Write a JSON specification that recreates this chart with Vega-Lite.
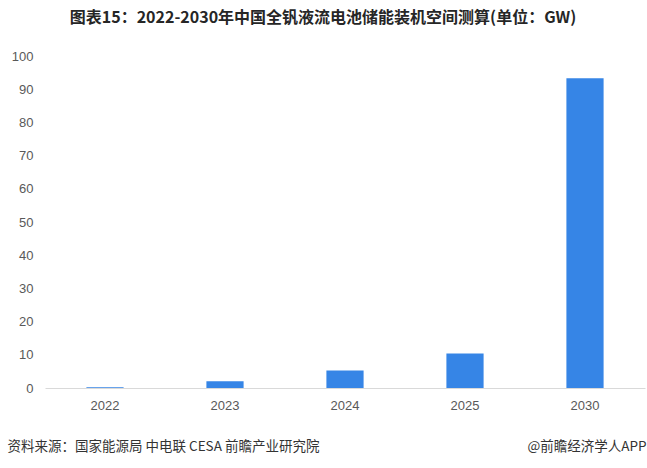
{
  "$schema": "https://vega.github.io/schema/vega-lite/v6.json",
  "width": 600,
  "height": 332,
  "autosize": {"type": "none"},
  "padding": {"left": 45, "top": 56, "right": 2, "bottom": 80},
  "background": "white",
  "title": {
    "text": "图表15：2022-2030年中国全钒液流电池储能装机空间测算(单位：GW)",
    "font": "Noto Sans CJK SC",
    "fontSize": 16,
    "fontWeight": "bold",
    "color": "#262626",
    "anchor": "middle",
    "frame": "group",
    "baseline": "middle",
    "offset": 16,
    "dx": -22
  },
  "data": {
    "values": [
      {"year": "2022", "value": 0.2},
      {"year": "2023", "value": 2.0},
      {"year": "2024", "value": 5.3},
      {"year": "2025", "value": 10.4},
      {"year": "2030", "value": 93.3}
    ]
  },
  "mark": {"type": "bar", "color": "#3685e6"},
  "encoding": {
    "x": {
      "field": "year",
      "type": "ordinal",
      "scale": {"paddingInner": 0.69, "paddingOuter": 0.345},
      "axis": {
        "title": "资料来源：国家能源局 中电联 CESA 前瞻产业研究院",
        "titleFont": "Noto Sans CJK SC",
        "titleFontSize": 13.5,
        "titleFontWeight": "normal",
        "titleColor": "#333333",
        "titleX": -38,
        "titleY": 58,
        "titleAnchor": "start",
        "titleAlign": "left",
        "titleBaseline": "middle",
        "labelAngle": 0,
        "labelFont": "Liberation Sans",
        "labelFontSize": 13,
        "labelColor": "#595959",
        "labelPadding": 11,
        "ticks": false,
        "domainColor": "#d9d9d9",
        "domainWidth": 1,
        "grid": false
      }
    },
    "y": {
      "field": "value",
      "type": "quantitative",
      "scale": {"domain": [0, 100]},
      "axis": {
        "values": [0, 10, 20, 30, 40, 50, 60, 70, 80, 90, 100],
        "title": "@前瞻经济学人APP",
        "titleFont": "Noto Sans CJK SC",
        "titleFontSize": 13.5,
        "titleFontWeight": "normal",
        "titleColor": "#333333",
        "titleAngle": 0,
        "titleX": 601,
        "titleY": 390,
        "titleAlign": "right",
        "titleAnchor": null,
        "titleBaseline": "middle",
        "labelFont": "Liberation Sans",
        "labelFontSize": 13,
        "labelColor": "#595959",
        "labelPadding": 12,
        "ticks": false,
        "domain": false,
        "grid": false
      }
    }
  },
  "config": {"view": {"stroke": null}}
}
